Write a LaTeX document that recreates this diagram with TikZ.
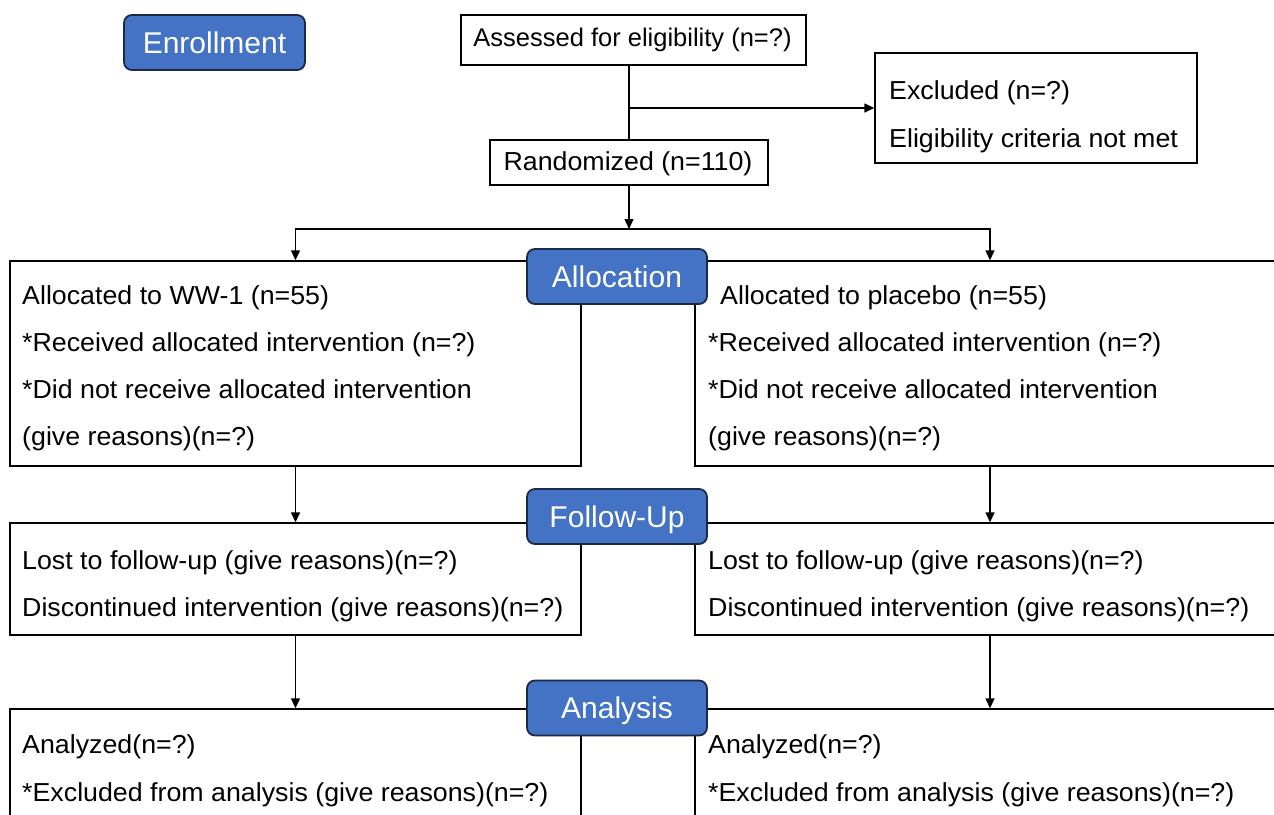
\documentclass[tikz,border=0pt]{standalone}
\usepackage{fontspec}
\setmainfont{Liberation Sans}
\newfontfamily\bodyfont{Liberation Sans}[FakeStretch=1.03]
\usetikzlibrary{arrows.meta}
\definecolor{lblfill}{HTML}{4472C4}
\definecolor{lbldraw}{HTML}{1B2A47}
\tikzset{
 box/.style={draw=black, line width=1.4pt, fill=white, inner sep=0pt},
 lbl/.style={draw=lbldraw, line width=1.8pt, fill=lblfill, rounded corners=8pt, text=white,
   font=\fontsize{30}{36}\selectfont, minimum width=180pt, minimum height=55pt, inner sep=0pt,
   text height=21.5pt, text depth=0pt},
 txt/.style={font=\bodyfont\fontsize{26}{30}\selectfont, inner sep=0pt, anchor=base west},
 ctxt/.style={font=\bodyfont\fontsize{26}{30}\selectfont, inner sep=0pt, anchor=base},
 ttxt/.style={font=\fontsize{25.5}{30}\selectfont, inner sep=0pt, anchor=base},
 arr/.style={line width=1.4pt, -{Triangle[length=10pt,width=9pt]}},
 ln/.style={line width=1.4pt}
}
\begin{document}
\begin{tikzpicture}[x=1pt,y=-1pt]
\useasboundingbox (0,0) rectangle (1274,814);
\clip (0,0) rectangle (1274,814);
\fill[white] (0,0) rectangle (1274,814);

% enrollment boxes
\node[box, minimum width=345pt, minimum height=50pt] (assess) at (633.5,40) {};
\node[ttxt] (assessT) at (632.5,46) {Assessed for eligibility (n=?)};
\node[box, minimum width=278pt, minimum height=45pt] (rand) at (629,162.5) {};
\node[ctxt] (randT) at (628,170) {Randomized (n=110)};
\node[box, minimum width=322pt, minimum height=110pt] (excl) at (1036,108) {};
\node[txt] (exclA) at (889,99) {Excluded (n=?)};
\node[txt] (exclB) at (889,147) {Eligibility criteria not met};

% allocation boxes
\node[box, minimum width=571pt, minimum height=205pt] (allocL) at (295.5,363.5) {};
\node[box, minimum width=590pt, minimum height=205pt] (allocR) at (990,363.5) {};
\node[txt] (aL1) at (22,304) {Allocated to WW-1 (n=55)};
\node[txt] (aL2) at (22,351) {*Received allocated intervention (n=?)};
\node[txt] (aL3) at (22,398) {*Did not receive allocated intervention};
\node[txt] (aL4) at (22,445) {(give reasons)(n=?)};
\node[txt] (aR1) at (720,304) {Allocated to placebo (n=55)};
\node[txt] (aR2) at (708,351) {*Received allocated intervention (n=?)};
\node[txt] (aR3) at (708,398) {*Did not receive allocated intervention};
\node[txt] (aR4) at (708,445) {(give reasons)(n=?)};

% follow-up boxes
\node[box, minimum width=571pt, minimum height=112pt] (folL) at (295.5,579) {};
\node[box, minimum width=590pt, minimum height=112pt] (folR) at (990,579) {};
\node[txt] (fL1) at (22,569) {Lost to follow-up (give reasons)(n=?)};
\node[txt] (fL2) at (22,616) {Discontinued intervention (give reasons)(n=?)};
\node[txt] (fR1) at (708,569) {Lost to follow-up (give reasons)(n=?)};
\node[txt] (fR2) at (708,616) {Discontinued intervention (give reasons)(n=?)};

% analysis boxes
\node[box, minimum width=571pt, minimum height=151pt] (anaL) at (295.5,784.5) {};
\node[box, minimum width=590pt, minimum height=151pt] (anaR) at (990,784.5) {};
\node[txt] (nL1) at (22,753) {Analyzed(n=?)};
\node[txt] (nL2) at (22,801) {*Excluded from analysis (give reasons)(n=?)};
\node[txt] (nR1) at (708,753) {Analyzed(n=?)};
\node[txt] (nR2) at (708,801) {*Excluded from analysis (give reasons)(n=?)};

% connectors
\coordinate (br) at (629,108);
\coordinate (split) at (629,229);
\draw[ln] (rand.north |- assess.south) -- (rand.north);
\draw[arr] (br) -- (excl.west);
\draw[arr] (rand.south) -- (split);
\draw[arr] (split) -| (allocL.north);
\draw[arr] (split) -| (allocR.north);
\draw[arr] (allocL.south) -- (folL.north);
\draw[arr] (allocR.south) -- (folR.north);
\draw[arr] (folL.south) -- (anaL.north);
\draw[arr] (folR.south) -- (anaR.north);

% stage labels
\node[lbl, minimum width=181pt] (enroll) at (214.5,42.5) {Enrollment};
\node[lbl] (allocLbl) at (617,276.5) {Allocation};
\node[lbl] (folLbl) at (617,516.5) {Follow-Up};
\node[lbl] (anaLbl) at (617,708) {Analysis};
\end{tikzpicture}
\end{document}
